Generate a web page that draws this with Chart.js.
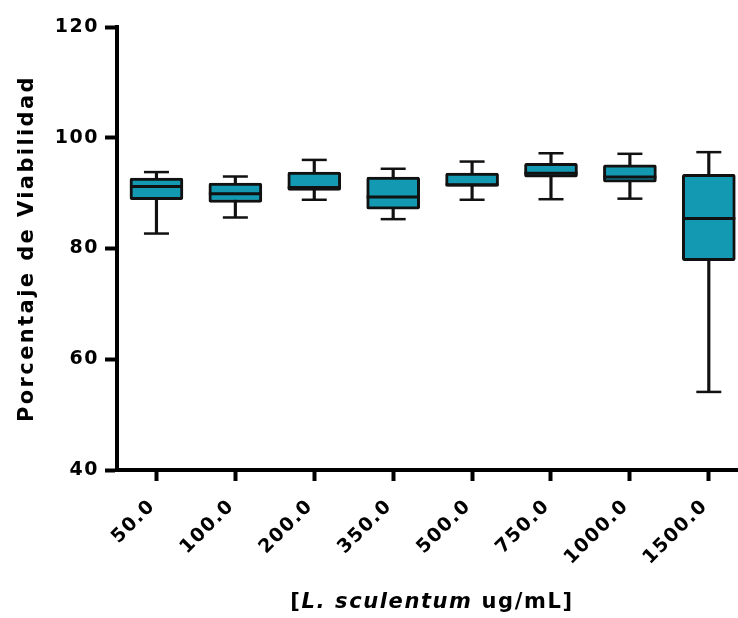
<!DOCTYPE html>
<html>
<head>
<meta charset="utf-8">
<script src="https://cdn.jsdelivr.net/npm/chart.js@4.4.1/dist/chart.umd.min.js"></script>
<style>
  html, body { margin: 0; padding: 0; background: #fff; }
  #wrap { width: 738px; height: 618px; }
</style>
</head>
<body>
<div id="wrap"><canvas id="boxChart" width="738" height="618"></canvas></div>
<script>
// concentrations (x categories)
const categories = ['50.0', '100.0', '200.0', '350.0', '500.0', '750.0', '1000.0', '1500.0'];
// box plot values, % viability
const minVals = [82.7, 85.6, 88.8, 85.3, 88.8, 88.9, 89.0, 54.1];
const q1Vals  = [88.8, 88.3, 90.5, 87.1, 91.2, 92.9, 92.0, 77.8];
const medVals = [91.2, 89.9, 91.0, 89.3, 91.5, 93.6, 92.9, 85.4];
const q3Vals  = [92.7, 91.8, 93.8, 92.9, 93.6, 95.4, 95.1, 93.4];
const maxVals = [93.8, 93.0, 96.0, 94.4, 95.7, 97.2, 97.1, 97.4];
const yTicks  = [40, 60, 80, 100, 120];
const yTitle = 'Porcentaje de Viabilidad';

const boxColor = '#1399b2';
const fontFam = "'DejaVu Sans', sans-serif";

const xPos = categories.map((c, i) => i + 1);

const titlesPlugin = {
    id: 'titles',
    beforeDraw(chart) { chart.ctx.letterSpacing = '1.5px'; },
    afterDraw(chart) {
        const ctx = chart.ctx;
        const area = chart.chartArea;
        ctx.save();
        ctx.fillStyle = '#000';
        ctx.textBaseline = 'middle';

        // y axis title
        ctx.save();
        ctx.letterSpacing = '2.4px';
        ctx.font = 'bold 21px ' + fontFam;
        ctx.textAlign = 'center';
        ctx.translate(28, (area.top + area.bottom) / 2);
        ctx.rotate(-Math.PI / 2);
        ctx.fillText(yTitle, 0, 0);
        ctx.restore();

        // x axis title with italic species name
        const parts = [
            { t: '[', f: 'bold 21px ' + fontFam },
            { t: 'L. sculentum', f: 'italic bold 21px ' + fontFam },
            { t: ' ug/mL]', f: 'bold 21px ' + fontFam }
        ];
        ctx.letterSpacing = '1.6px';
        ctx.textAlign = 'left';
        let total = 0;
        parts.forEach(p => { ctx.font = p.f; p.w = ctx.measureText(p.t).width; total += p.w; });
        let x = 432 - total / 2;
        parts.forEach(p => { ctx.font = p.f; ctx.fillText(p.t, x, 603); x += p.w; });
        ctx.restore();
        ctx.letterSpacing = '0px';
    }
};

const ctx = document.getElementById('boxChart').getContext('2d');
new Chart(ctx, {
    type: 'bar',
    data: {
        datasets: [
            {
                type: 'scatter',
                label: 'median',
                data: xPos.map((x, i) => ({ x, y: medVals[i] })),
                pointStyle: 'line',
                radius: 26.5,
                borderWidth: 3,
                borderColor: '#111',
                order: 0
            },
            {
                label: 'box',
                data: xPos.map((x, i) => ({ x, y: [q1Vals[i], q3Vals[i]] })),
                backgroundColor: boxColor,
                borderColor: '#111',
                borderWidth: 3,
                borderSkipped: false,
                borderRadius: 2,
                barThickness: 53,
                grouped: false,
                order: 1
            },
            {
                label: 'whisker',
                data: xPos.map((x, i) => ({ x, y: [minVals[i], maxVals[i]] })),
                backgroundColor: '#111',
                borderWidth: 0,
                barThickness: 2.5,
                grouped: false,
                order: 2
            },
            {
                type: 'scatter',
                label: 'caps',
                data: xPos.map((x, i) => ({ x, y: minVals[i] })).concat(xPos.map((x, i) => ({ x, y: maxVals[i] }))),
                pointStyle: 'line',
                radius: 12.5,
                borderWidth: 2.5,
                borderColor: '#111',
                order: 2
            }
        ]
    },
    options: {
        responsive: false,
        animation: false,
        layout: { autoPadding: false, padding: { top: 27, right: 0, bottom: 0, left: 0 } },
        plugins: { legend: { display: false }, tooltip: { enabled: false } },
        scales: {
            x: {
                type: 'linear',
                offset: false,
                min: 0.5,
                max: 8.37,
                afterBuildTicks(scale) { scale.ticks = xPos.map(v => ({ value: v })); },
                afterFit(scale) {
                    scale.height = 148;
                    scale.paddingLeft = 0;
                    scale.paddingRight = 0;
                },
                border: { display: true, width: 4, color: '#000' },
                grid: { offset: false, drawOnChartArea: false, drawTicks: true, tickLength: 11, tickWidth: 4, tickColor: '#000' },
                ticks: {
                    minRotation: 45,
                    maxRotation: 45,
                    padding: 14,
                    labelOffset: -4,
                    color: '#000',
                    font: { family: fontFam, size: 19, weight: 'bold' },
                    callback: v => categories[v - 1]
                }
            },
            y: {
                min: 40,
                max: 120,
                afterBuildTicks(scale) { scale.ticks = yTicks.map(v => ({ value: v })); },
                afterFit(scale) { scale.width = 117; },
                border: { display: true, width: 4, color: '#000' },
                grid: { drawOnChartArea: false, drawTicks: true, tickLength: 12, tickWidth: 4, tickColor: '#000' },
                ticks: {
                    padding: 6,
                    color: '#000',
                    font: { family: fontFam, size: 19, weight: 'bold' }
                }
            }
        }
    },
    plugins: [titlesPlugin]
});
</script>
</body>
</html>
